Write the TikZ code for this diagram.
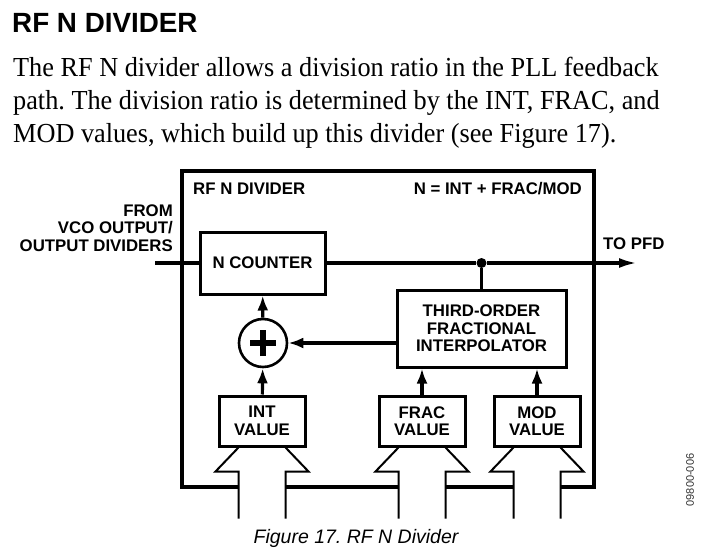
\documentclass[tikz,border=0pt]{standalone}
\usepackage{fontspec}
\setmainfont{Liberation Serif}
\setsansfont{Liberation Sans}
\newfontfamily\parfont[FakeStretch=0.955]{Liberation Serif}
\usetikzlibrary{arrows.meta}

\newcommand{\diagfont}{\sffamily\bfseries\fontsize{16.8}{17.5}\selectfont}
\tikzset{
	blk/.style={draw, line width=3pt, font=\diagfont, align=center, inner sep=0pt},
	wire/.style={line width=3.2pt},
	sig/.style={wire, -{Latex[length=15pt,width=11pt]}},
	bus/.style={line width=2pt, line join=miter},
	txt/.style={inner sep=0pt, font=\diagfont},
	partxt/.style={anchor=base west, inner sep=0pt, font=\parfont\fontsize{27.5}{33}\selectfont},
}

\begin{document}
\frenchspacing
\begin{tikzpicture}[x=1pt,y=-1pt]
	\useasboundingbox (0,0) rectangle (709,556);
	% heading and text above the figure
	\node (head) at (12,33) [anchor=base west, inner sep=0pt, font=\sffamily\bfseries\fontsize{27.8}{30}\selectfont] {RF N DIVIDER};
	\node (par1) at (13,77) [partxt] {The RF N divider allows a division ratio in the PLL feedback};
	\node (par2) at (13,110) [partxt] {path. The division ratio is determined by the INT, FRAC, and};
	\node (par3) at (13,143) [partxt] {MOD values, which build up this divider (see Figure 17).};
	% frame
	\draw[line width=3.6pt] (238,487) -- (182,487) -- (182,171) -- (594,171) -- (594,487) -- (561,487);
	\draw[line width=3.6pt] (285,487) -- (398,487) (445,487) -- (513,487);
	\node (title) at (193,189) [txt, anchor=west] {RF N DIVIDER};
	\node (eqn) at (582,189) [txt, anchor=east] {N = INT + FRAC/MOD};
	% blocks
	\node (ncount) at (262.5,263) [blk, minimum width=125pt, minimum height=62pt] {N COUNTER};
	\node (interp) at (481.5,328.5) [blk, minimum width=169pt, minimum height=77pt] {THIRD-ORDER\\FRACTIONAL\\INTERPOLATOR};
	\node (sum) at (263,343) [draw, circle, line width=2.6pt, minimum size=48pt, inner sep=0pt] {};
	\draw[line width=5.5pt] ([xshift=-13pt]sum.center) -- ([xshift=13pt]sum.center)
		([yshift=-13pt]sum.center) -- ([yshift=13pt]sum.center);
	\node (intval) at (262,421) [blk, minimum width=86pt, minimum height=50pt] {INT\\VALUE};
	\node (fracval) at (422,421) [blk, minimum width=86pt, minimum height=50pt] {FRAC\\VALUE};
	\node (modval) at (537,421) [blk, minimum width=86pt, minimum height=50pt] {MOD\\VALUE};
	\node (tap) at (481.5,263) [circle, fill, inner sep=0pt, minimum size=10pt] {};
	\coordinate (src) at (155,263);
	\coordinate (pfd) at (637,263);
	\node (from) at (173,228) [txt, anchor=east, align=right] {FROM\\VCO OUTPUT/\\OUTPUT DIVIDERS};
	\node (topfd) at (603,244) [txt, anchor=west] {TO PFD};
	% connections
	\draw[wire] (src) -- (ncount);
	\draw[wire, -{Latex[length=18pt,width=10pt]}] (ncount) -- (tap) -- (pfd);
	\draw[wire] (tap) -- (interp);
	\draw[sig] (sum -| interp.west) -- (sum);
	\draw[sig] (sum) -- (ncount);
	\draw[sig] (intval) -- (sum);
	\draw[sig] (fracval) -- (fracval |- interp.south);
	\draw[sig] (modval) -- (modval |- interp.south);
	% bus inputs
	\foreach \n in {intval,fracval,modval} {
		\draw[bus] ([xshift=-23.5pt,yshift=-71pt]\n.south) -- ++(0,-47) -- ++(-23,0) -- ([xshift=-23.5pt]\n.south);
		\draw[bus] ([xshift=23.5pt,yshift=-71pt]\n.south) -- ++(0,-47) -- ++(23,0) -- ([xshift=23.5pt]\n.south);
	}
	% caption
	\node (caption) at (356,538) [font=\sffamily\itshape\fontsize{19.5}{22}\selectfont] {Figure 17. RF N Divider};
	\node (code) at (690,480) [rotate=90, text=black!80, font=\sffamily\fontsize{11}{12}\selectfont] {09800-006};
\end{tikzpicture}
\end{document}
